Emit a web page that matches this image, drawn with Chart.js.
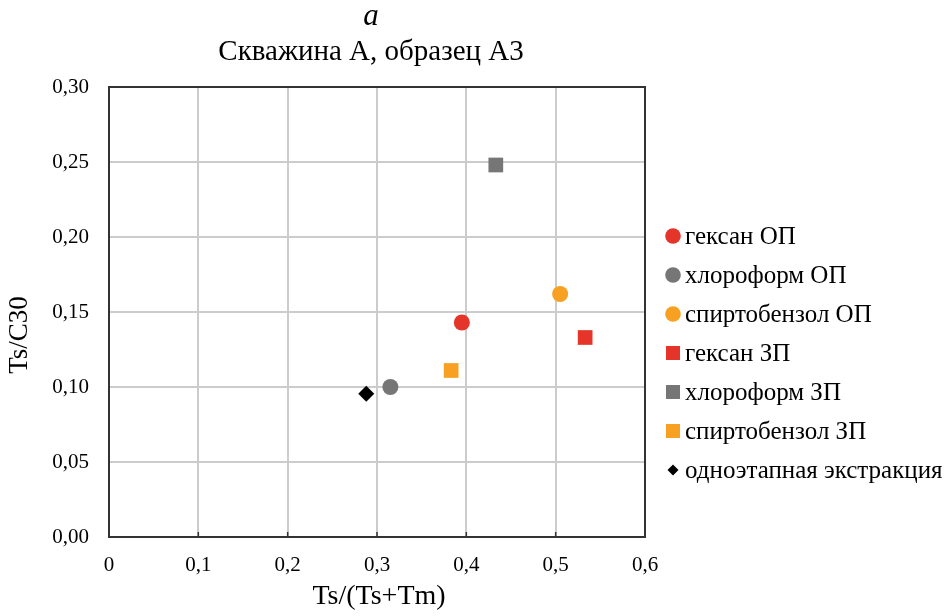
<!DOCTYPE html>
<html>
<head>
<meta charset="utf-8">
<script src="https://cdn.jsdelivr.net/npm/chart.js@4"></script>
<style>
  html, body { margin: 0; padding: 0; background: #fff; }
  #wrap { width: 946px; height: 616px; position: relative; }
</style>
</head>
<body>
<div id="wrap"><canvas id="c" width="946" height="616"></canvas></div>
<script>
// ---- data ----
const seriesLabels = ['гексан ОП', 'хлороформ ОП', 'спиртобензол ОП', 'гексан ЗП', 'хлороформ ЗП', 'спиртобензол ЗП', 'одноэтапная экстракция'];
const xValues = [0.395, 0.315, 0.505, 0.533, 0.433, 0.383, 0.288];
const yValues = [0.143, 0.100, 0.162, 0.133, 0.248, 0.111, 0.0955];
const seriesColors = ['#E5352A', '#767676', '#F7A021', '#E5352A', '#767676', '#F7A021', '#000000'];
const seriesShapes = ['circle', 'circle', 'circle', 'rect', 'rect', 'rect', 'rectRot'];
const xTickLabels = ['0', '0,1', '0,2', '0,3', '0,4', '0,5', '0,6'];
const yTickLabels = ['0,00', '0,05', '0,10', '0,15', '0,20', '0,25', '0,30'];
const chartLetter = 'a';
const chartTitle = 'Скважина А, образец А3';
const xTitle = 'Ts/(Ts+Tm)';
const yTitle = 'Ts/C30';

const SERIF = '"Liberation Serif", "Times New Roman", serif';
const radiusFor = s => s === 'circle' ? 8 : (s === 'rect' ? 10.4 : 8);

const datasets = seriesLabels.map((lab, i) => ({
  label: lab,
  data: [{ x: xValues[i], y: yValues[i] }],
  pointStyle: seriesShapes[i],
  pointRadius: radiusFor(seriesShapes[i]),
  pointHoverRadius: radiusFor(seriesShapes[i]),
  backgroundColor: seriesColors[i],
  borderColor: seriesColors[i],
  borderWidth: 0
}));

const decorPlugin = {
  id: 'decor',
  beforeDatasetsDraw(chart) {
    const { ctx, chartArea: a, scales } = chart;
    ctx.save();
    ctx.strokeStyle = '#333';
    ctx.lineWidth = 1.5;
    xTickLabels.forEach((_, i) => {
      const px = scales.x.getPixelForValue(i / 10);
      ctx.beginPath();
      ctx.moveTo(px, a.bottom);
      ctx.lineTo(px, a.bottom - 5);
      ctx.stroke();
    });
    ctx.lineWidth = 2;
    ctx.strokeStyle = '#333';
    ctx.strokeRect(a.left, a.top, a.right - a.left, a.bottom - a.top);
    ctx.restore();
  },
  afterDraw(chart) {
    const { ctx } = chart;
    ctx.save();
    ctx.fillStyle = '#000';
    ctx.textAlign = 'center';
    ctx.textBaseline = 'middle';
    ctx.font = 'italic 31px ' + SERIF;
    ctx.fillText(chartLetter, 371, 17);
    ctx.font = '29px ' + SERIF;
    ctx.fillText(chartTitle, 371, 52);
    ctx.font = '28px ' + SERIF;
    ctx.fillText(xTitle, 379, 597);
    ctx.save();
    ctx.translate(20, 335);
    ctx.rotate(-Math.PI / 2);
    ctx.font = '27px ' + SERIF;
    ctx.fillText(yTitle, 0, 0);
    ctx.restore();

    // legend
    const lx = 673, tx = 685, y0 = 236, dy = 39;
    ctx.font = '25px ' + SERIF;
    ctx.textAlign = 'left';
    seriesLabels.forEach((lab, i) => {
      const y = y0 + i * dy;
      ctx.fillStyle = seriesColors[i];
      const s = seriesShapes[i];
      ctx.beginPath();
      if (s === 'circle') {
        ctx.arc(lx, y, 7.8, 0, Math.PI * 2);
      } else if (s === 'rect') {
        ctx.rect(lx - 7, y - 7, 14, 14);
      } else {
        ctx.moveTo(lx, y - 5.5); ctx.lineTo(lx + 5.5, y); ctx.lineTo(lx, y + 5.5); ctx.lineTo(lx - 5.5, y); ctx.closePath();
      }
      ctx.fill();
      ctx.fillStyle = '#000';
      ctx.fillText(lab, tx, y + 1);
    });
    ctx.restore();
  }
};

new Chart(document.getElementById('c'), {
  type: 'scatter',
  data: { datasets },
  options: {
    responsive: false,
    animation: false,
    events: [],
    layout: { padding: { top: 87, right: 301, left: 0, bottom: 0 } },
    plugins: { legend: { display: false }, tooltip: { enabled: false }, title: { display: false } },
    scales: {
      x: {
        type: 'linear', min: 0, max: 0.6,
        afterFit: s => { s.height = 79; },
        afterBuildTicks: s => { s.ticks = xTickLabels.map((_, i) => ({ value: i / 10 })); },
        ticks: {
          callback: (v, i) => xTickLabels[i],
          font: { family: SERIF, size: 21 }, color: '#000', padding: 16, maxRotation: 0
        },
        grid: { color: '#cccccc', lineWidth: 2, drawTicks: false },
        border: { display: false }
      },
      y: {
        type: 'linear', min: 0, max: 0.3,
        afterFit: s => { s.width = 109; },
        afterBuildTicks: s => { s.ticks = yTickLabels.map((_, i) => ({ value: i * 0.05 })); },
        ticks: {
          callback: (v, i) => yTickLabels[i],
          font: { family: SERIF, size: 21 }, color: '#000', padding: 20
        },
        grid: { color: '#cccccc', lineWidth: 2, drawTicks: false },
        border: { display: false }
      }
    }
  },
  plugins: [decorPlugin]
});
</script>
</body>
</html>
